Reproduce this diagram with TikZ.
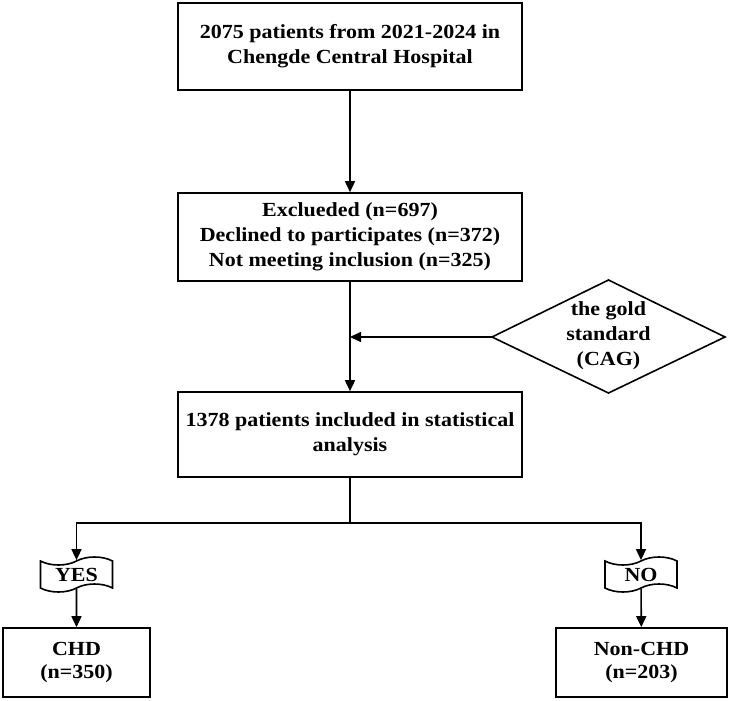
\documentclass[tikz,border=0pt]{standalone}
\usepackage{fontspec}
\setmainfont{Liberation Serif}[FakeStretch=1.1]
\usetikzlibrary{shapes.symbols,arrows.meta}
\begin{document}
\begin{tikzpicture}[x=1pt,y=-1pt,
  box/.style={draw,line width=1.6pt,minimum width=344pt,align=center,
    font=\bfseries\fontsize{20}{25}\selectfont},
  banner/.style={draw,tape,tape bend height=8pt,fill=white,line width=1.6pt,minimum width=72pt,
    minimum height=35pt,inner sep=0pt,font=\bfseries\fontsize{20}{22}\selectfont},
  arr/.style={line width=1.6pt,-{Triangle[length=11pt,width=10pt]}},
  lin/.style={line width=1.6pt}]
\useasboundingbox (0,0) rectangle (729,701);
%Knoten
\node[box,minimum height=87pt] (start) at (350,46.5)
  {2075 patients from 2021-2024 in\\Chengde Central Hospital};
\node[box,minimum height=88pt] (excl) at (350,237)
  {Exclueded (n=697)\\Declined to participates (n=372)\\Not meeting inclusion (n=325)};
\node[box,minimum height=85pt] (incl) at (350,434.5)
  {1378 patients included in statistical\\analysis};
\node[align=center,font=\bfseries\fontsize{20}{25}\selectfont] (gold) at (608.5,336)
  {the gold\\standard\\(CAG)};
\node[box,minimum width=147pt,minimum height=69pt,font=\bfseries\fontsize{20}{22.5}\selectfont] (chd) at (76.5,662.5)
  {CHD\\(n=350)};
\node[box,minimum width=171pt,minimum height=69pt,font=\bfseries\fontsize{20}{22.5}\selectfont] (nonchd) at (641.5,662.5)
  {Non-CHD\\(n=203)};
\node[banner] (yes) at (76.5,574.5) {YES};
\node[banner] (no) at (641,574.5) {NO};
%Raute
\coordinate (goldleft) at (492,337);
\draw[line width=1.6pt] (goldleft) -- (608.5,280) -- (725,337) -- (608.5,393) -- cycle;
\coordinate (split) at (350,523);
%Linien
\draw[arr] (start) -- (excl);
\draw[arr] (excl) -- (incl);
\draw[arr] (goldleft) -- (excl.south |- goldleft);
\draw[lin] (incl) -- (split);
\draw[arr] (split) -| (yes);
\draw[arr] (split) -| (no);
\draw[arr] (yes) -- (chd);
\draw[arr] (no) -- (nonchd);
\end{tikzpicture}
\end{document}
